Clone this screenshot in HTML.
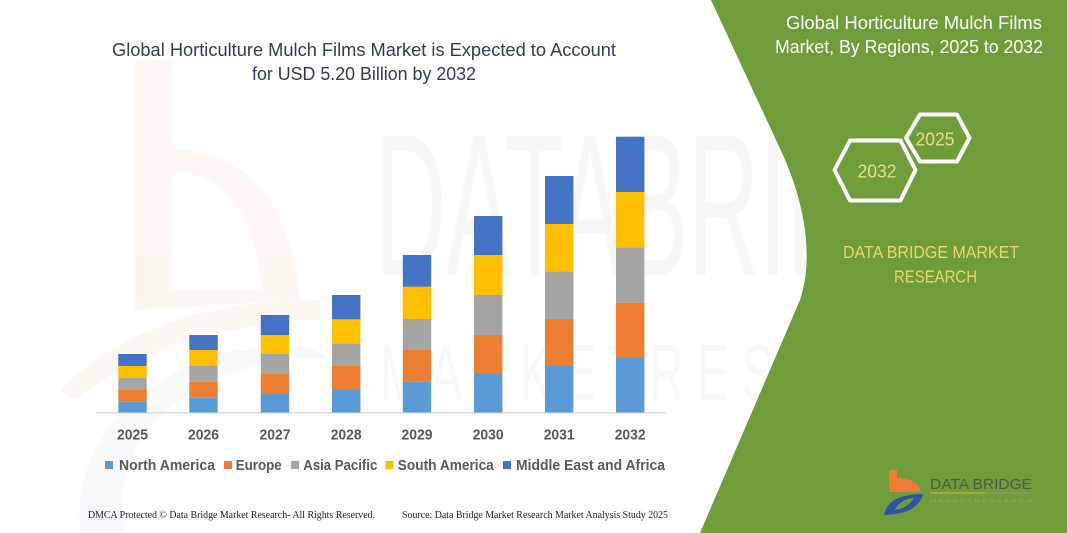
<!DOCTYPE html>
<html><head><meta charset="utf-8"><style>
html,body{margin:0;padding:0;background:#fff;}
svg{display:block;}
</style></head><body>
<svg width="1067" height="533" viewBox="0 0 1067 533" xmlns="http://www.w3.org/2000/svg">
<rect width="1067" height="533" fill="#fff"/>
<!-- faint watermark logo -->
<g opacity="0.28">
<path d="M135,60 L172,60 L172,150 Q285,150 300,300 L135,310 Z M172,170 L172,290 L262,290 Q252,175 172,170 Z" fill="#FBE3D4" fill-rule="evenodd"/>
<path d="M60,390 Q150,300 320,300 L320,320 Q170,325 75,400 Z" fill="#FBE3D4"/>
<path d="M80,533 Q70,420 200,360 Q300,330 330,360 Q260,350 180,400 Q110,450 125,533 Z" fill="#E3EAF4"/>
</g>
<text x="375" y="275" font-family="Liberation Sans, sans-serif" font-size="203" fill="#F7F7F7" textLength="625" lengthAdjust="spacingAndGlyphs">DATABRIDGE</text>
<text x="380" y="400" font-family="Liberation Sans, sans-serif" font-size="80" fill="#F8F8F8" textLength="620" lengthAdjust="spacingAndGlyphs">M A R K E T R E S E A R C H</text>

<!-- green panel -->
<path d="M711,0 L783,155 C803,200 815,255 800,300 L700,533 L1067,533 L1067,0 Z" fill="#6E9D3A"/>

<!-- left title -->
<g font-family="Liberation Sans, sans-serif" fill="#2E3D5A" font-size="18.5">
<text x="112" y="56" textLength="504" lengthAdjust="spacingAndGlyphs">Global Horticulture Mulch Films Market is Expected to Account</text>
<text x="252" y="80" textLength="224" lengthAdjust="spacingAndGlyphs">for USD 5.20 Billion by 2032</text>
</g>

<!-- axis -->
<line x1="96" y1="412.8" x2="666" y2="412.8" stroke="#D9D9D9" stroke-width="1.3"/>

<!-- bars -->
<g>
<rect x="118.3" y="401.7" width="28.4" height="10.8" fill="#5B9BD5"/>
<rect x="118.3" y="390" width="28.4" height="11.7" fill="#ED7D31"/>
<rect x="118.3" y="378" width="28.4" height="12" fill="#A5A5A5"/>
<rect x="118.3" y="366" width="28.4" height="12" fill="#FFC000"/>
<rect x="118.3" y="354" width="28.4" height="12" fill="#4472C4"/>
<rect x="189.3" y="397.7" width="28.4" height="14.8" fill="#5B9BD5"/>
<rect x="189.3" y="381.7" width="28.4" height="16" fill="#ED7D31"/>
<rect x="189.3" y="366" width="28.4" height="15.7" fill="#A5A5A5"/>
<rect x="189.3" y="350" width="28.4" height="16" fill="#FFC000"/>
<rect x="189.3" y="335" width="28.4" height="15" fill="#4472C4"/>
<rect x="260.8" y="394" width="28.4" height="18.5" fill="#5B9BD5"/>
<rect x="260.8" y="374" width="28.4" height="20" fill="#ED7D31"/>
<rect x="260.8" y="354" width="28.4" height="20" fill="#A5A5A5"/>
<rect x="260.8" y="335" width="28.4" height="19" fill="#FFC000"/>
<rect x="260.8" y="315" width="28.4" height="20" fill="#4472C4"/>
<rect x="332" y="390" width="28.4" height="22.5" fill="#5B9BD5"/>
<rect x="332" y="366" width="28.4" height="24" fill="#ED7D31"/>
<rect x="332" y="343.3" width="28.4" height="22.7" fill="#A5A5A5"/>
<rect x="332" y="319.3" width="28.4" height="24" fill="#FFC000"/>
<rect x="332" y="295" width="28.4" height="24.3" fill="#4472C4"/>
<rect x="402.8" y="381.7" width="28.4" height="30.8" fill="#5B9BD5"/>
<rect x="402.8" y="350" width="28.4" height="31.7" fill="#ED7D31"/>
<rect x="402.8" y="319" width="28.4" height="31" fill="#A5A5A5"/>
<rect x="402.8" y="286.7" width="28.4" height="32.3" fill="#FFC000"/>
<rect x="402.8" y="255" width="28.4" height="31.7" fill="#4472C4"/>
<rect x="474" y="374" width="28.4" height="38.5" fill="#5B9BD5"/>
<rect x="474" y="335" width="28.4" height="39" fill="#ED7D31"/>
<rect x="474" y="295" width="28.4" height="40" fill="#A5A5A5"/>
<rect x="474" y="255" width="28.4" height="40" fill="#FFC000"/>
<rect x="474" y="216" width="28.4" height="39" fill="#4472C4"/>
<rect x="545" y="366" width="28.4" height="46.5" fill="#5B9BD5"/>
<rect x="545" y="319" width="28.4" height="47" fill="#ED7D31"/>
<rect x="545" y="271.3" width="28.4" height="47.7" fill="#A5A5A5"/>
<rect x="545" y="224" width="28.4" height="47.3" fill="#FFC000"/>
<rect x="545" y="176" width="28.4" height="48" fill="#4472C4"/>
<rect x="616" y="358" width="28.4" height="54.5" fill="#5B9BD5"/>
<rect x="616" y="302.7" width="28.4" height="55.3" fill="#ED7D31"/>
<rect x="616" y="247.3" width="28.4" height="55.4" fill="#A5A5A5"/>
<rect x="616" y="192" width="28.4" height="55.3" fill="#FFC000"/>
<rect x="616" y="136.7" width="28.4" height="55.3" fill="#4472C4"/>
</g>

<!-- year labels -->
<g font-family="Liberation Sans, sans-serif" font-weight="bold" font-size="15" fill="#595959" text-anchor="middle">
<text x="132.5" y="439.5" textLength="31" lengthAdjust="spacingAndGlyphs">2025</text>
<text x="203.5" y="439.5" textLength="31" lengthAdjust="spacingAndGlyphs">2026</text>
<text x="275" y="439.5" textLength="31" lengthAdjust="spacingAndGlyphs">2027</text>
<text x="346.2" y="439.5" textLength="31" lengthAdjust="spacingAndGlyphs">2028</text>
<text x="417" y="439.5" textLength="31" lengthAdjust="spacingAndGlyphs">2029</text>
<text x="488.2" y="439.5" textLength="31" lengthAdjust="spacingAndGlyphs">2030</text>
<text x="559.2" y="439.5" textLength="31" lengthAdjust="spacingAndGlyphs">2031</text>
<text x="630.2" y="439.5" textLength="31" lengthAdjust="spacingAndGlyphs">2032</text>
</g>

<!-- legend -->
<g font-family="Liberation Sans, sans-serif" font-weight="bold" font-size="15" fill="#595959">
<rect x="105" y="461" width="8" height="8" fill="#5B9BD5"/>
<text x="119" y="470" textLength="96" lengthAdjust="spacingAndGlyphs">North America</text>
<rect x="224" y="461" width="8" height="8" fill="#ED7D31"/>
<text x="235.7" y="470" textLength="46" lengthAdjust="spacingAndGlyphs">Europe</text>
<rect x="291" y="461" width="8" height="8" fill="#A5A5A5"/>
<text x="303.3" y="470" textLength="74" lengthAdjust="spacingAndGlyphs">Asia Pacific</text>
<rect x="385.5" y="461" width="8" height="8" fill="#FFC000"/>
<text x="397.8" y="470" textLength="96" lengthAdjust="spacingAndGlyphs">South America</text>
<rect x="503" y="461" width="8" height="8" fill="#4472C4"/>
<text x="516" y="470" textLength="149" lengthAdjust="spacingAndGlyphs">Middle East and Africa</text>
</g>

<!-- footer -->
<g font-family="Liberation Serif, serif" font-size="10" fill="#1F1F1F">
<text x="88" y="518" textLength="287" lengthAdjust="spacingAndGlyphs">DMCA Protected © Data Bridge Market Research-  All Rights Reserved.</text>
<text x="402" y="518" textLength="266" lengthAdjust="spacingAndGlyphs">Source: Data Bridge Market Research  Market Analysis Study 2025</text>
</g>

<!-- right title -->
<g font-family="Liberation Sans, sans-serif" fill="#FFFFFF" font-size="18.5">
<text x="786" y="29" textLength="256" lengthAdjust="spacingAndGlyphs">Global Horticulture Mulch Films</text>
<text x="775" y="53" textLength="268" lengthAdjust="spacingAndGlyphs">Market, By Regions, 2025 to 2032</text>
</g>

<!-- hexagons -->
<g fill="none" stroke="#FFFFFF" stroke-width="4" stroke-linejoin="round">
<polygon points="834.5,170 850,140.5 900.5,140.5 915.5,170 900.5,200.5 850,200.5"/>
<polygon points="906,138 920,114.5 957,114.5 969.5,138 957,161.5 920,161.5"/>
</g>
<g font-family="Liberation Sans, sans-serif" fill="#ECDF86" font-size="18">
<text x="857.5" y="177.5" textLength="39" lengthAdjust="spacingAndGlyphs">2032</text>
<text x="915.5" y="145.5" textLength="39" lengthAdjust="spacingAndGlyphs">2025</text>
</g>

<!-- DBMR text -->
<g font-family="Liberation Sans, sans-serif" fill="#EBD56E" font-size="17.5">
<text x="843" y="258" textLength="176" lengthAdjust="spacingAndGlyphs">DATA BRIDGE MARKET</text>
<text x="894" y="282.5" textLength="83" lengthAdjust="spacingAndGlyphs">RESEARCH</text>
</g>

<!-- bottom-right logo -->
<g>
<path d="M889,470 L897,470 L897,478 Q917,478 921,492 L889,492 Z" fill="#EE7D33"/>
<path d="M884,515 Q888,494 923,494 Q918,514 884,515 Z" fill="#2E55A4"/>
<path d="M895,510 Q900,499 914,498 Q908,508 895,510 Z" fill="#6E9D3A"/>
<text x="930" y="489" font-family="Liberation Sans, sans-serif" font-size="15" fill="#4E5B44" textLength="102" lengthAdjust="spacingAndGlyphs">DATA BRIDGE</text>
<line x1="930" y1="493" x2="985" y2="493" stroke="#C9A94A" stroke-width="1.2"/>
<line x1="985" y1="493" x2="1032" y2="493" stroke="#8A9A7A" stroke-width="1"/>
<text x="930" y="503" font-family="Liberation Sans, sans-serif" font-size="5" fill="#8FA57A" textLength="102" lengthAdjust="spacingAndGlyphs">M A R K E T    R E S E A R C H</text>
</g>
</svg>
</body></html>
